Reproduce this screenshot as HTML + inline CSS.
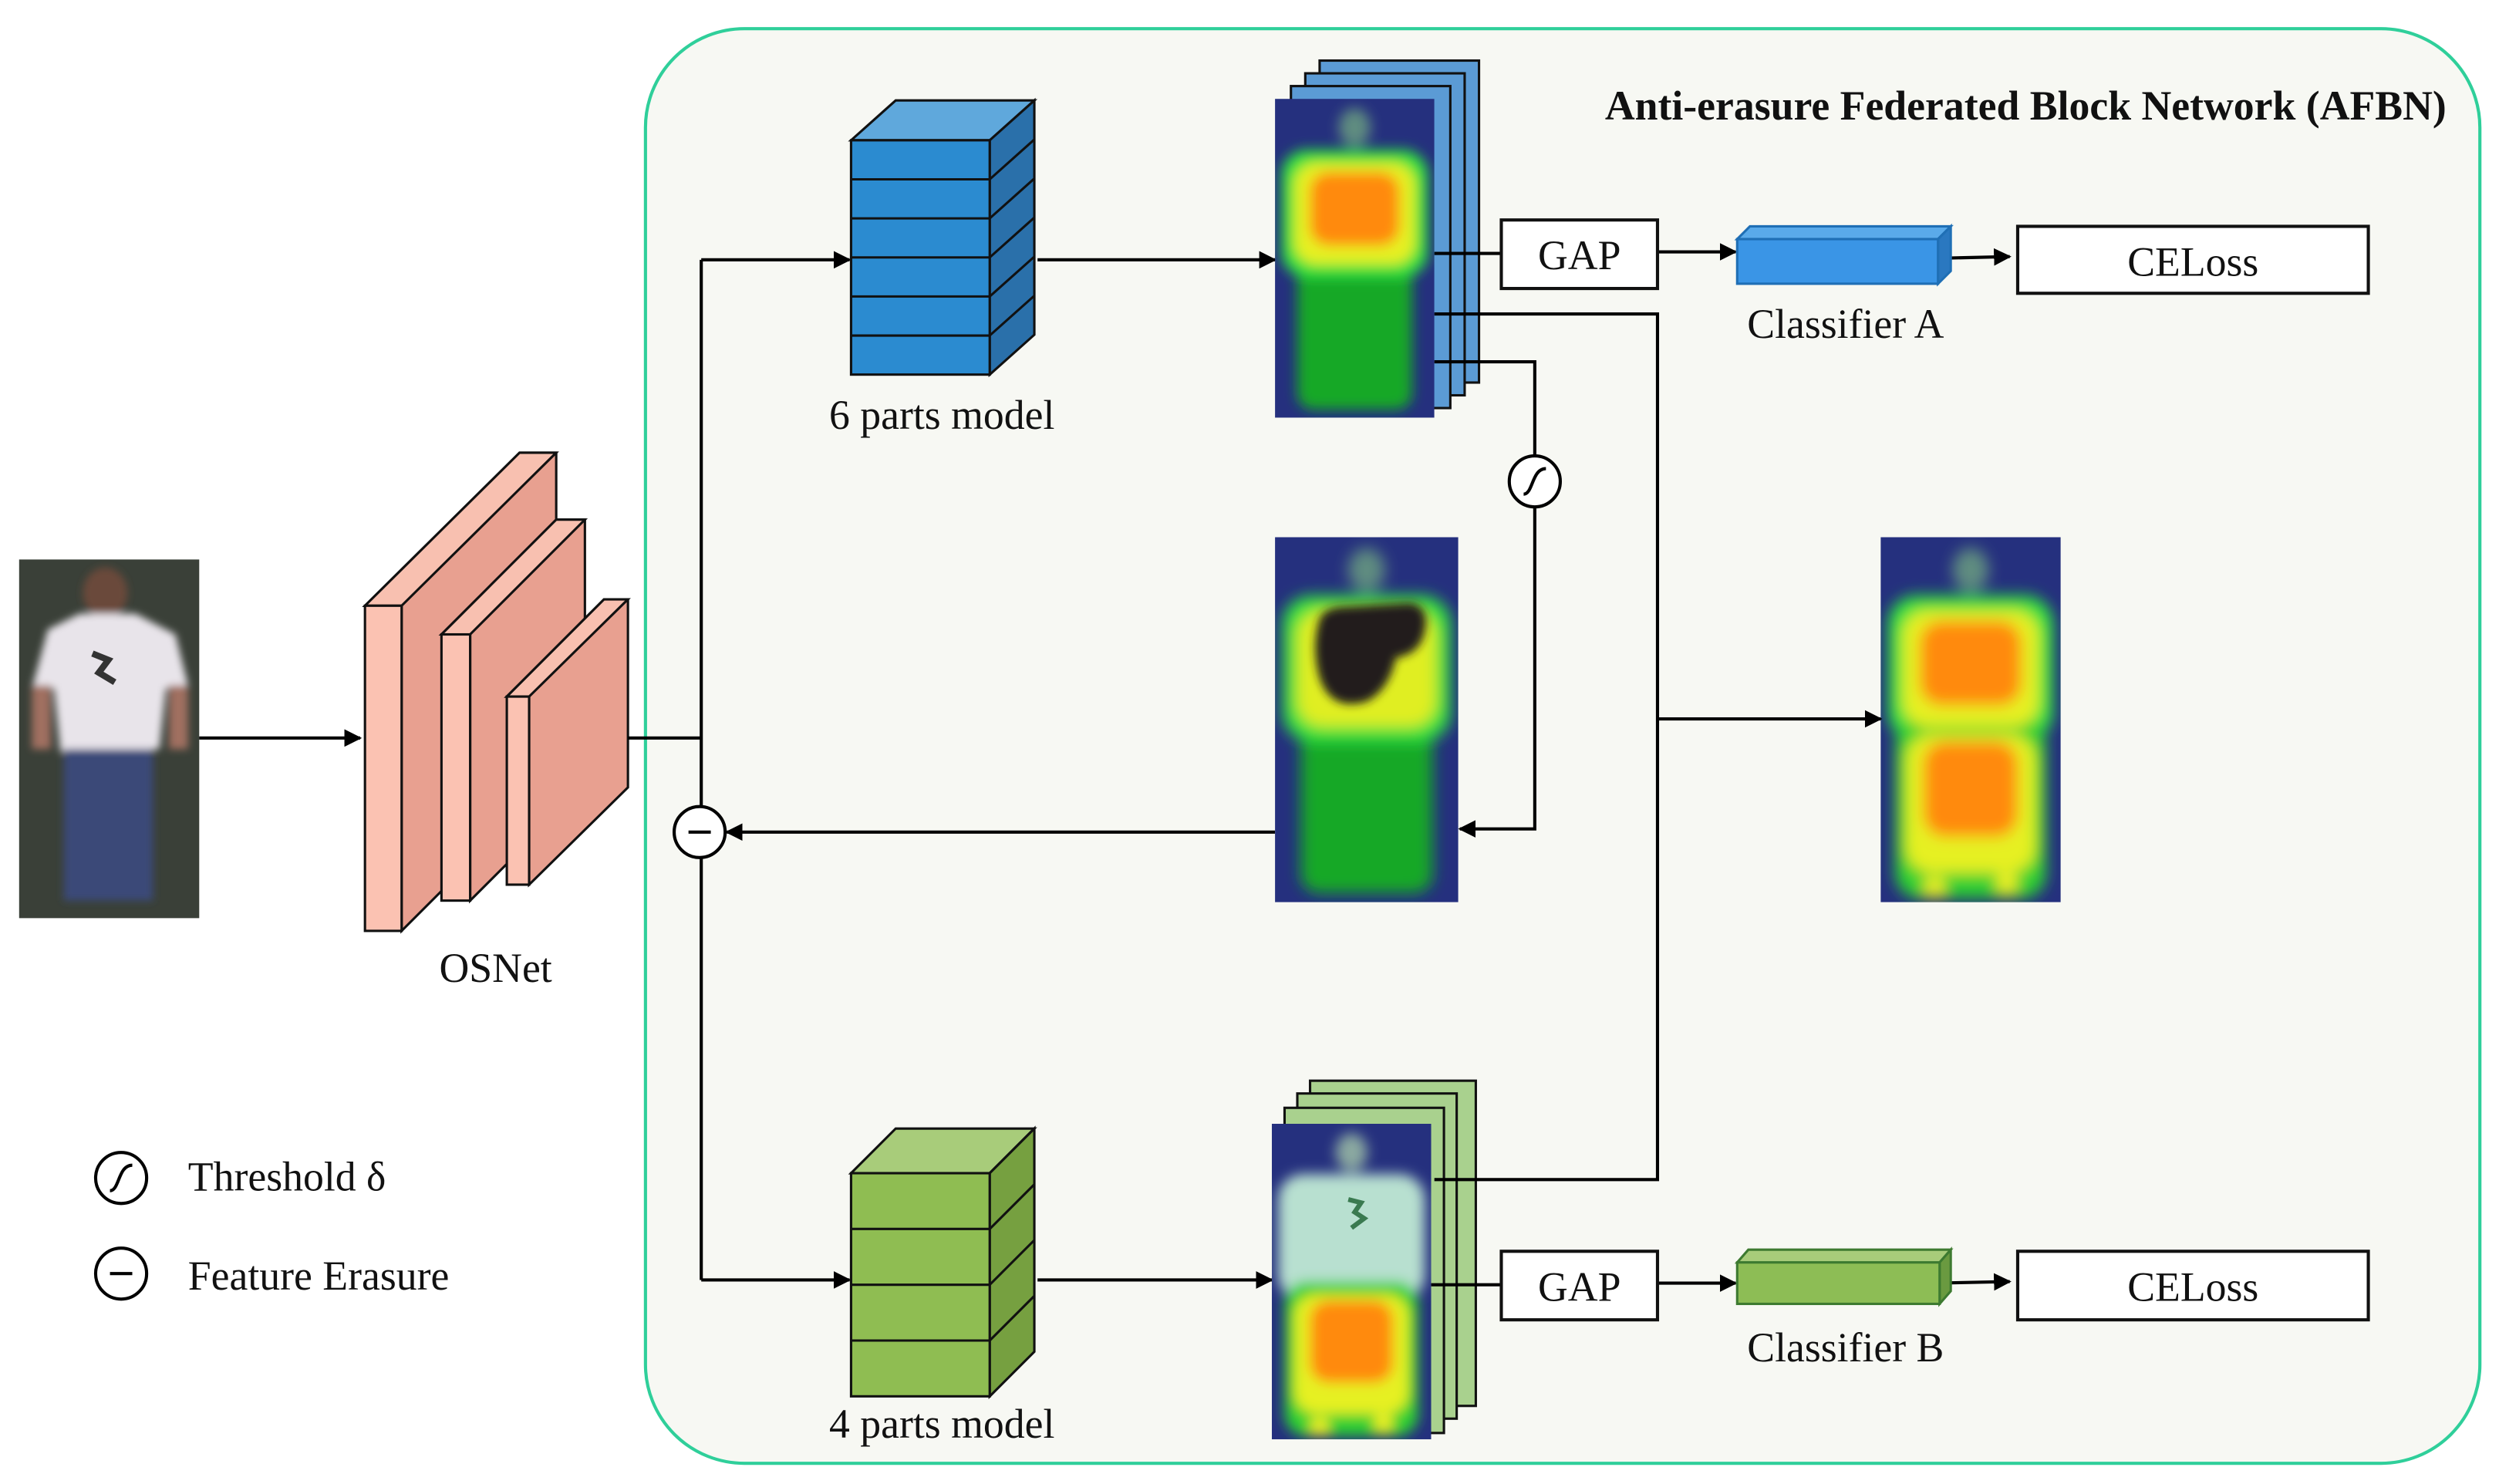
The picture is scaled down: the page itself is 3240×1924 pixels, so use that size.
<!DOCTYPE html>
<html><head><meta charset="utf-8"><style>
html,body{margin:0;padding:0;background:#fff;}
svg{display:block;}
text{font-family:"Liberation Serif",serif;fill:#111;}
</style></head><body>
<svg width="3240" height="1924" viewBox="0 0 1568 931" preserveAspectRatio="none" xmlns="http://www.w3.org/2000/svg">
<defs>
<filter id="b" x="-20%" y="-20%" width="140%" height="140%"><feGaussianBlur stdDeviation="4"/></filter>
<filter id="b2" x="-20%" y="-20%" width="140%" height="140%"><feGaussianBlur stdDeviation="2.5"/></filter>
<marker id="ar" viewBox="0 0 10 10" refX="9" refY="5" markerWidth="11" markerHeight="11" markerUnits="userSpaceOnUse" orient="auto"><path d="M0,0 L10,5 L0,10 z" fill="#000"/></marker>
<symbol id="hmTop" viewBox="0 0 100 200" preserveAspectRatio="none">
 <rect width="100" height="200" fill="#25307e"/>
 <g filter="url(#b)">
  <ellipse cx="50" cy="18" rx="10" ry="12" fill="#5e8c80"/>
  <rect x="14" y="100" width="72" height="95" rx="10" fill="#16a828"/>
  <rect x="4" y="32" width="92" height="80" rx="16" fill="#2ee040"/>
  <rect x="12" y="40" width="76" height="64" rx="14" fill="#e6f020"/>
  <rect x="22" y="46" width="56" height="46" rx="12" fill="#ff8a10"/>
 </g>
</symbol>
<symbol id="hmErase" viewBox="0 0 100 200" preserveAspectRatio="none">
 <rect width="100" height="200" fill="#25307e"/>
 <g filter="url(#b)">
  <ellipse cx="50" cy="18" rx="10" ry="12" fill="#5e8c80"/>
  <rect x="14" y="100" width="72" height="95" rx="10" fill="#16a828"/>
  <rect x="4" y="32" width="92" height="80" rx="16" fill="#2ee040"/>
  <rect x="12" y="40" width="76" height="64" rx="14" fill="#e0ee20"/>
 </g>
 <path d="M24,46 Q26,38 40,38 L74,36 Q84,38 82,50 Q80,64 66,66 Q62,84 50,90 Q30,96 24,76 Q20,60 24,46 z" fill="#231d1c" filter="url(#b2)"/>
</symbol>
<symbol id="hmFull" viewBox="0 0 100 200" preserveAspectRatio="none">
 <rect width="100" height="200" fill="#25307e"/>
 <g filter="url(#b)">
  <ellipse cx="50" cy="18" rx="10" ry="12" fill="#5e8c80"/>
  <rect x="4" y="32" width="92" height="80" rx="16" fill="#2ee040"/>
  <rect x="8" y="100" width="84" height="98" rx="14" fill="#2ed030"/>
  <rect x="12" y="40" width="76" height="64" rx="14" fill="#e6f020"/>
  <rect x="22" y="46" width="56" height="46" rx="12" fill="#ff8a10"/>
  <rect x="14" y="108" width="72" height="76" rx="14" fill="#e6f020"/>
  <rect x="24" y="112" width="52" height="52" rx="12" fill="#ff8a10"/>
  <circle cx="30" cy="192" r="6" fill="#f0f020"/>
  <circle cx="70" cy="190" r="6" fill="#f0f020"/>
 </g>
</symbol>
<symbol id="hmBot" viewBox="0 0 100 200" preserveAspectRatio="none">
 <rect width="100" height="200" fill="#25307e"/>
 <g filter="url(#b)">
  <ellipse cx="50" cy="18" rx="10" ry="12" fill="#8aa8a0"/>
  <rect x="4" y="32" width="92" height="80" rx="16" fill="#b8e0d0"/>
  <rect x="8" y="100" width="84" height="98" rx="14" fill="#2ed030"/>
  <rect x="14" y="108" width="72" height="76" rx="14" fill="#e6f020"/>
  <rect x="24" y="112" width="52" height="52" rx="12" fill="#ff8a10"/>
  <circle cx="30" cy="192" r="6" fill="#f0f020"/>
  <circle cx="70" cy="190" r="6" fill="#f0f020"/>
 </g>
 <path d="M48,48 l8,2 -4,6 6,4 -8,6" stroke="#3a7a50" stroke-width="3" fill="none"/>
</symbol>
</defs>

<rect width="1568" height="931" fill="#fff"/>
<rect x="405" y="18" width="1151" height="900" rx="62" ry="62" fill="#f7f8f3" stroke="#2fcf9a" stroke-width="2"/>
<text x="1535" y="75" text-anchor="end" font-size="26" font-weight="bold">Anti-erasure Federated Block Network (AFBN)</text>

<!-- person photo -->
<rect x="12" y="351" width="113" height="225" fill="#3a4038"/>
<g filter="url(#b2)">
 <ellipse cx="66" cy="372" rx="14" ry="16" fill="#6a4a3a"/>
 <path d="M30,395 L50,385 L85,385 L110,398 L118,430 L104,432 L100,470 L38,472 L34,432 L20,432 z" fill="#e8e4ea"/>
 <rect x="40" y="470" width="56" height="95" fill="#3a4a78"/>
 <rect x="20" y="430" width="12" height="40" fill="#a07060"/>
 <rect x="106" y="430" width="12" height="40" fill="#a07060"/>
</g>
<path d="M58,410 l10,4 -6,8 10,6" stroke="#333" stroke-width="4" fill="none"/>
<line x1="125" y1="463" x2="226" y2="463" stroke="#000" stroke-width="2" marker-end="url(#ar)"/>

<!-- OSNet slabs -->
<g stroke="#111" stroke-width="1.5">
 <polygon points="229,380 326,284 349,284 349,487 252,584 252,380" fill="#e8a090"/>
 <polygon points="229,380 326,284 349,284 252,380" fill="#f8c0b0"/>
 <rect x="229" y="380" width="23" height="204" fill="#fbc2b2"/>
 <polygon points="277,398 349,326 367,326 367,493 295,565 295,398" fill="#e8a090"/>
 <polygon points="277,398 349,326 367,326 295,398" fill="#f8c0b0"/>
 <rect x="277" y="398" width="18" height="167" fill="#fbc2b2"/>
 <polygon points="318,437 379,376 394,376 394,494 332,555 332,437" fill="#e8a090"/>
 <polygon points="318,437 379,376 394,376 332,437" fill="#f8c0b0"/>
 <rect x="318" y="437" width="14" height="118" fill="#fbc2b2"/>
</g>
<text x="311" y="616" text-anchor="middle" font-size="26">OSNet</text>

<g stroke="#000" stroke-width="2" fill="none">
 <polyline points="394,463 440,463"/>
 <line x1="440" y1="163" x2="440" y2="506"/>
 <line x1="440" y1="538" x2="440" y2="803"/>
 <line x1="440" y1="163" x2="533" y2="163" marker-end="url(#ar)"/>
 <line x1="440" y1="803" x2="533" y2="803" marker-end="url(#ar)"/>
 <line x1="800" y1="522" x2="456" y2="522" marker-end="url(#ar)"/>
 <line x1="651" y1="163" x2="800" y2="163" marker-end="url(#ar)"/>
 <line x1="651" y1="803" x2="798" y2="803" marker-end="url(#ar)"/>
</g>
<circle cx="439" cy="522" r="16" fill="#fff" stroke="#000" stroke-width="2"/>
<line x1="432" y1="522" x2="446" y2="522" stroke="#000" stroke-width="2"/>

<!-- 6 parts cube -->
<g stroke="#111" stroke-width="1.5">
 <polygon points="534,88 562,63 649,63 621,88" fill="#5fa8dc"/>
 <polygon points="621,88 649,63 649,210 621,235" fill="#2a70aa"/>
 <rect x="534" y="88" width="87" height="147" fill="#2b8bd0"/>
 <line x1="534" y1="112.5" x2="621" y2="112.5"/><line x1="534" y1="137" x2="621" y2="137"/>
 <line x1="534" y1="161.5" x2="621" y2="161.5"/><line x1="534" y1="186" x2="621" y2="186"/>
 <line x1="534" y1="210.5" x2="621" y2="210.5"/>
 <line x1="621" y1="112.5" x2="649" y2="87.5"/><line x1="621" y1="137" x2="649" y2="112"/>
 <line x1="621" y1="161.5" x2="649" y2="136.5"/><line x1="621" y1="186" x2="649" y2="161"/>
 <line x1="621" y1="210.5" x2="649" y2="185.5"/>
</g>
<text x="591" y="269" text-anchor="middle" font-size="26">6 parts model</text>

<!-- 4 parts cube -->
<g stroke="#111" stroke-width="1.5">
 <polygon points="534,736 562,708 649,708 621,736" fill="#a8cc7a"/>
 <polygon points="621,736 649,708 649,848 621,876" fill="#76a040"/>
 <rect x="534" y="736" width="87" height="140" fill="#8fbd52"/>
 <line x1="534" y1="771" x2="621" y2="771"/><line x1="534" y1="806" x2="621" y2="806"/><line x1="534" y1="841" x2="621" y2="841"/>
 <line x1="621" y1="771" x2="649" y2="743"/><line x1="621" y1="806" x2="649" y2="778"/><line x1="621" y1="841" x2="649" y2="813"/>
</g>
<text x="591" y="902" text-anchor="middle" font-size="26">4 parts model</text>

<!-- top stack -->
<g stroke="#111" stroke-width="1.5" fill="#5b9bd5">
 <rect x="828" y="38" width="100" height="202"/>
 <rect x="819" y="46" width="100" height="202"/>
 <rect x="810" y="54" width="100" height="202"/>
</g>
<use href="#hmTop" x="800" y="62" width="100" height="200"/>

<!-- bottom stack -->
<g stroke="#111" stroke-width="1.5" fill="#a9d18e">
 <rect x="822" y="678" width="104" height="204"/>
 <rect x="814" y="686" width="100" height="204"/>
 <rect x="806" y="695" width="100" height="204"/>
</g>
<use href="#hmBot" x="798" y="705" width="100" height="198"/>

<use href="#hmErase" x="800" y="337" width="115" height="229"/>
<use href="#hmFull" x="1180" y="337" width="113" height="229"/>

<g stroke="#000" stroke-width="2" fill="none">
 <line x1="900" y1="159" x2="942" y2="159"/>
 <line x1="1040" y1="158" x2="1089" y2="158" marker-end="url(#ar)"/>
 <line x1="1218" y1="162" x2="1261" y2="161" marker-end="url(#ar)"/>
 <polyline points="900,197 1040,197 1040,740 900,740"/>
 <line x1="1040" y1="451" x2="1180" y2="451" marker-end="url(#ar)"/>
 <polyline points="900,227 963,227 963,286"/>
 <polyline points="963,318 963,520 916,520" marker-end="url(#ar)"/>
 <line x1="898" y1="806" x2="942" y2="806"/>
 <line x1="1040" y1="805" x2="1089" y2="805" marker-end="url(#ar)"/>
 <line x1="1215" y1="805" x2="1261" y2="804" marker-end="url(#ar)"/>
</g>
<circle cx="963" cy="302" r="16" fill="#fff" stroke="#000" stroke-width="2"/>
<path d="M956,310 C962,310 961,294 970,294" stroke="#000" stroke-width="2" fill="none"/>

<rect x="942" y="138" width="98" height="43" fill="#fff" stroke="#111" stroke-width="2"/>
<text x="991" y="169" text-anchor="middle" font-size="26">GAP</text>
<rect x="942" y="785" width="98" height="43" fill="#fff" stroke="#111" stroke-width="2"/>
<text x="991" y="816" text-anchor="middle" font-size="26">GAP</text>

<g stroke="#1f6fb5" stroke-width="1.5">
 <polygon points="1090,150 1098,142 1224,142 1216,150" fill="#5aaaea"/>
 <polygon points="1216,150 1224,142 1224,170 1216,178" fill="#2a78c0"/>
 <rect x="1090" y="150" width="126" height="28" fill="#3a95e6"/>
</g>
<text x="1158" y="212" text-anchor="middle" font-size="26">Classifier A</text>
<g stroke="#3d7a30" stroke-width="1.5">
 <polygon points="1090,792 1097,784 1224,784 1217,792" fill="#a8cc7a"/>
 <polygon points="1217,792 1224,784 1224,810 1217,818" fill="#6a9a40"/>
 <rect x="1090" y="792" width="127" height="26" fill="#8dbd55"/>
</g>
<text x="1158" y="854" text-anchor="middle" font-size="26">Classifier B</text>

<rect x="1266" y="142" width="220" height="42" fill="#fff" stroke="#111" stroke-width="2"/>
<text x="1376" y="173" text-anchor="middle" font-size="26">CELoss</text>
<rect x="1266" y="785" width="220" height="43" fill="#fff" stroke="#111" stroke-width="2"/>
<text x="1376" y="816" text-anchor="middle" font-size="26">CELoss</text>

<circle cx="76" cy="739" r="16" fill="#fff" stroke="#000" stroke-width="2"/>
<path d="M69,747 C75,747 74,731 83,731" stroke="#000" stroke-width="2" fill="none"/>
<text x="118" y="747" font-size="26">Threshold δ</text>
<circle cx="76" cy="799" r="16" fill="#fff" stroke="#000" stroke-width="2"/>
<line x1="69" y1="799" x2="83" y2="799" stroke="#000" stroke-width="2"/>
<text x="118" y="809" font-size="26">Feature Erasure</text>
</svg>
</body></html>
